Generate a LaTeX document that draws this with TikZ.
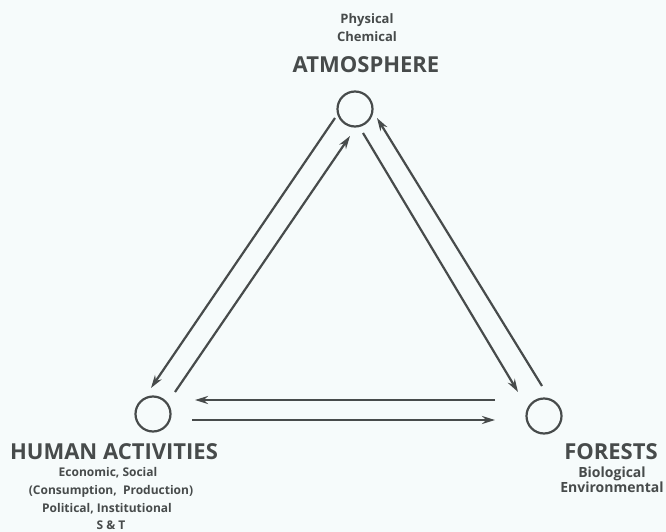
\documentclass[tikz,border=0pt]{standalone}
\usepackage{fontspec}
\setmainfont{Open Sans}
\usetikzlibrary{arrows.meta}
\definecolor{ink}{HTML}{474B4B}
\definecolor{bg}{HTML}{F6FBFB}
\tikzset{
  site/.style={circle,draw=ink,line width=2.2pt,minimum size=35pt,inner sep=0pt},
  flow/.style={draw=ink,line width=2.2pt,-{Stealth[length=13pt,width=8pt]}},
  big/.style={text=ink,font=\fontsize{22}{24}\selectfont\bfseries,inner sep=0pt,anchor=base},
  small/.style={text=ink,font=\fontsize{12}{14}\selectfont\bfseries,inner sep=0pt,anchor=base},
  topsmall/.style={small,font=\fontsize{13}{15}\selectfont\bfseries},
  forsmall/.style={small,font=\fontsize{14}{16}\selectfont\bfseries},
}
\begin{document}
\begin{tikzpicture}[x=1pt,y=-1pt]
\fill[bg] (0,0) rectangle (666,532);
\useasboundingbox (0,0) rectangle (666,532);
% sites
\node[site] (atm) at (355,109) {};
\node[site] (hum) at (153,414) {};
\node[site] (for) at (544,416) {};
% labels
\node[topsmall] (atm1) at (367,24) {Physical};
\node[topsmall] (atm2) at (367,42) {Chemical};
\node[big] (atmlab) at (366,73) {ATMOSPHERE};
\node[big] (humlab) at (114,459) {HUMAN ACTIVITIES};
\node[small] (hum1) at (108,476) {Economic, Social};
\node[small] (hum2) at (111,494) {(Consumption,\ \ Production)};
\node[small] (hum3) at (107,512) {Political, Institutional};
\node[small] (hum4) at (111,529) {S \& T};
\node[big] (forlab) at (611,459) {FORESTS};
\node[forsmall] (for1) at (612,477) {Biological};
\node[forsmall] (for2) at (612,492) {Environmental};
% arrow end points
\coordinate (a1) at (335,118); \coordinate (h1) at (151,388);
\coordinate (h2) at (175,392); \coordinate (a2) at (350,136);
\coordinate (a3) at (363,133); \coordinate (f3) at (518,392);
\coordinate (f4) at (542,386); \coordinate (a4) at (377,118);
\coordinate (f5) at (495,400); \coordinate (h5) at (195,400);
\coordinate (h6) at (192,420); \coordinate (f6) at (495,420);
\draw[flow] (a1) -- (h1);
\draw[flow] (h2) -- (a2);
\draw[flow] (a3) -- (f3);
\draw[flow] (f4) -- (a4);
\draw[flow] (f5) -- (h5);
\draw[flow] (h6) -- (f6);
\end{tikzpicture}
\end{document}
